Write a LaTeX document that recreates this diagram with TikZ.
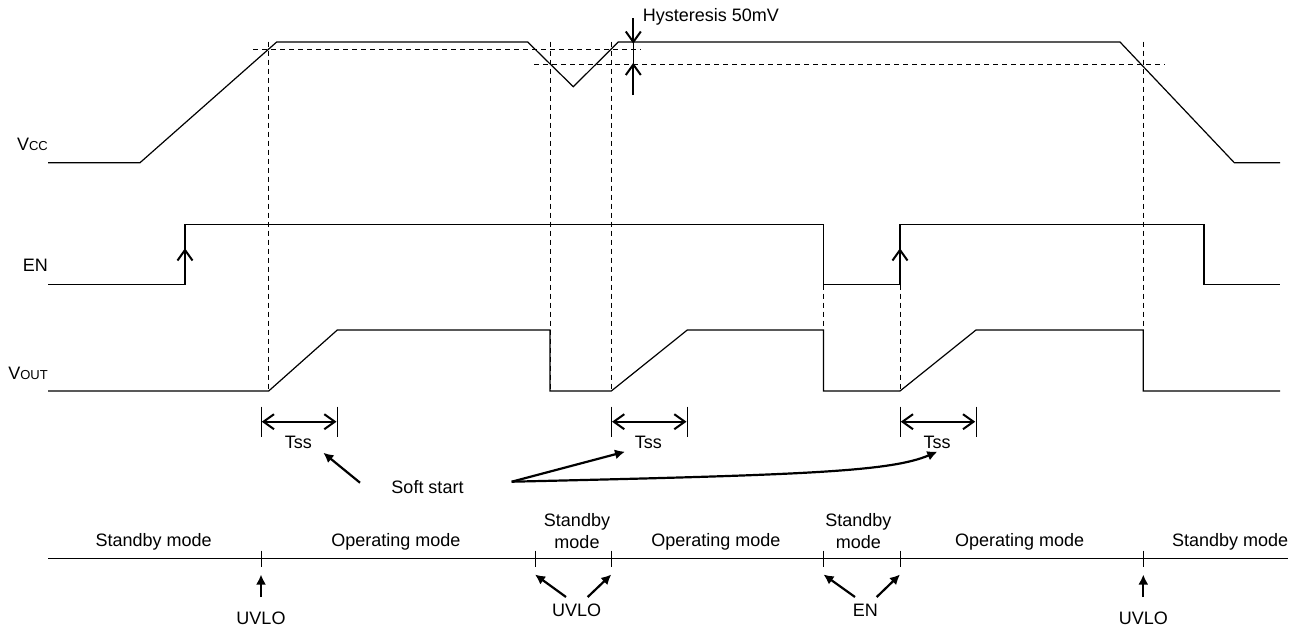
\documentclass[tikz,border=0pt]{standalone}
\usepackage{fontspec}
\setmainfont{Liberation Sans}
\usetikzlibrary{arrows.meta}
\begin{document}
\begin{tikzpicture}[x=1pt,y=-1pt,
  wave/.style={line width=1.2pt, line join=miter},
  guide/.style={line width=0.9pt, dash pattern=on 5pt off 4pt},
  lbl/.style={font=\fontsize{18}{22}\selectfont, inner sep=0pt, anchor=base},
  sig/.style={font=\fontsize{18}{22}\selectfont, inner sep=0pt, anchor=base east},
  shaft/.style={line width=2pt, line cap=butt},
  vhead/.pic={\draw[line width=2pt, line join=miter, line cap=butt] (-10.5,-7.5) -- (0,0) -- (-10.5,7.5);},
  fillarrow/.style={line width=2.2pt, -{Latex[length=10pt,width=10pt]}},
  tickmark/.style={line width=1pt}
]
\fill[white] (0,0) rectangle (1299,630);
\useasboundingbox (0,0) rectangle (1299,630);

% ---------- guide lines ----------
\draw[guide] (253,49) -- (641,49);
\draw[guide] (534.3,64) -- (1165,64);
\draw[guide] (268.7,41.5) -- (268.7,391);
\draw[guide] (550,41.5) -- (550,391);
\draw[guide] (611.3,41.5) -- (611.3,391);
\draw[guide] (1143.3,41.5) -- (1143.3,391);
\draw[guide] (823.5,284.5) -- (823.5,391);
\draw[guide] (900,284.5) -- (900,391);

% ---------- waveforms ----------
\draw[wave] (48,162.7) -- (140,162.7) -- (276.7,42) -- (527.7,42) -- (573.3,86.7)
  -- (618.3,42) -- (1120,42) -- (1234.3,162.7) -- (1280,162.7);
\draw[wave] (48,284.5) -- (185,284.5) -- (185,224.3) -- (823.5,224.3) -- (823.5,284.5)
  -- (900,284.5) -- (900,224.3) -- (1204,224.3) -- (1204,284.5) -- (1280,284.5);
\draw[wave] (48,391) -- (268.7,391) -- (337.3,330) -- (550,330) -- (550,391)
  -- (611.3,391) -- (687.3,330) -- (823.5,330) -- (823.5,391) -- (900,391)
  -- (976,330) -- (1143.3,330) -- (1143.3,391) -- (1280,391);

% ---------- signal labels ----------
\node[sig] (vcc) at (48,150.7) {V{\fontsize{13}{13}\selectfont CC}};
\node[sig] (en) at (48,271.7) {EN};
\node[sig] (vout) at (48,379.3) {V{\fontsize{13}{13}\selectfont OUT}};

% ---------- EN edge arrows ----------
\coordinate (ena1) at (185,284.5);
\coordinate (enb1) at (185,250);
\coordinate (ena2) at (900,284.5);
\coordinate (enb2) at (900,250);
\draw[shaft] (ena1) -- (enb1);
\draw[shaft] (ena2) -- (enb2);
\pic[rotate=90] at (enb1) {vhead};
\pic[rotate=90] at (enb2) {vhead};

% ---------- hysteresis ----------
\coordinate (hya) at (633.3,18);
\coordinate (hyb) at (633.3,42);
\coordinate (hyc) at (633.3,95);
\coordinate (hyd) at (633.3,64.5);
\draw[line width=0.9pt] (hyb) -- (hyd);
\draw[shaft] (hya) -- (hyb);
\draw[shaft] (hyc) -- (hyd);
\pic[rotate=-90] at (hyb) {vhead};
\pic[rotate=90] at (hyd) {vhead};
\node[lbl, anchor=base west] (hys) at (642.7,21.7) {Hysteresis 50mV};

% ---------- Tss brackets ----------
\foreach \a/\b/\n in {261/337.3/1, 611.3/687.3/2, 900/976/3}{
  \draw[tickmark] (\a,406.7) -- (\a,436.7);
  \draw[tickmark] (\b,406.7) -- (\b,436.7);
  \coordinate (ts\n a) at (\a+2.5,421.7);
  \coordinate (ts\n b) at (\b-2.5,421.7);
  \draw[shaft] (ts\n a) -- (ts\n b);
  \pic[rotate=180] at (ts\n a) {vhead};
  \pic at (ts\n b) {vhead};
}
\node[lbl] (tss1) at (298.3,448.3) {Tss};
\node[lbl] (tss2) at (648.3,448.3) {Tss};
\node[lbl] (tss3) at (937,448.3) {Tss};

% ---------- soft start ----------
\node[lbl] (soft) at (427.5,493.3) {Soft start};
\coordinate (ss1s) at (360,482.7);
\coordinate (ss1e) at (323.3,452.7);
\coordinate (ss2s) at (511.7,481.7);
\coordinate (ss2e) at (625,451.7);
\coordinate (ss3e) at (937.3,451.7);
\draw[fillarrow] (ss1s) -- (ss1e);
\draw[fillarrow] (ss2s) -- (ss2e);
\draw[fillarrow] (ss2s) .. controls (800,475) and (890,472) .. (ss3e);

% ---------- mode timeline ----------
\coordinate (tlL) at (48,558.3);
\coordinate (tlR) at (1287.7,558.3);
\draw[line width=1.3pt] (tlL) -- (tlR);
\foreach \x/\n in {261/1, 535/2, 611.3/3, 823.5/4, 900/5, 1143.3/6}{
  \coordinate (tk\n) at (\x,574.5);
  \draw[tickmark] (\x,550.7) -- (\x,566.7);
}
\node[lbl] (m1) at (153.7,546.7) {Standby mode};
\node[lbl] (m2) at (396,546.7) {Operating mode};
\node[lbl] (m3a) at (577,526) {Standby};
\node[lbl] (m3b) at (577,548.3) {mode};
\node[lbl] (m4) at (715.8,546.7) {Operating mode};
\node[lbl] (m5a) at (858.3,526) {Standby};
\node[lbl] (m5b) at (858.3,548.3) {mode};
\node[lbl] (m6) at (1019.7,546.7) {Operating mode};
\node[lbl] (m7) at (1230.2,546.7) {Standby mode};

% ---------- UVLO / EN markers ----------
\node[lbl] (uv1) at (261,624) {UVLO};
\node[lbl] (uv2) at (576.7,616) {UVLO};
\node[lbl] (enm) at (865.3,616) {EN};
\node[lbl] (uv3) at (1143.3,624) {UVLO};
\coordinate (a1) at (261,597);
\coordinate (a2l) at (566,597);
\coordinate (a2r) at (587.7,597);
\coordinate (a3l) at (855,597);
\coordinate (a3r) at (876.7,597);
\coordinate (a4) at (1143.3,597);
\draw[fillarrow] (a1) -- (tk1);
\draw[fillarrow] (a2l) -- (tk2);
\draw[fillarrow] (a2r) -- (tk3);
\draw[fillarrow] (a3l) -- (tk4);
\draw[fillarrow] (a3r) -- (tk5);
\draw[fillarrow] (a4) -- (tk6);
\end{tikzpicture}
\end{document}
